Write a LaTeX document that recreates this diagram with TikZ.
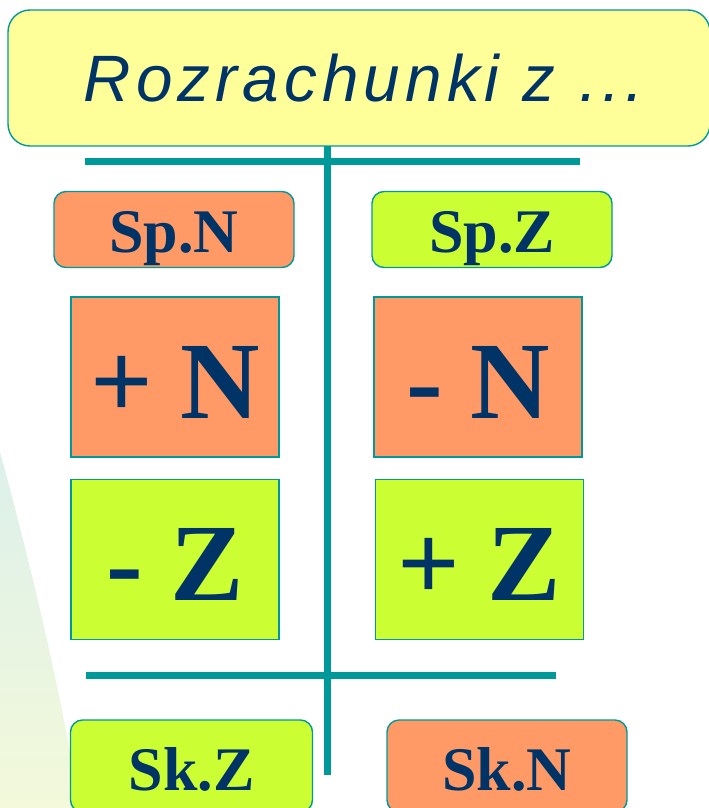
\documentclass[tikz,border=0pt]{standalone}
\usepackage{fontspec}
\setmainfont{Liberation Serif}
\newfontfamily\titlefont[LetterSpace=7.8]{Liberation Sans}
\definecolor{tealc}{HTML}{009999}
\definecolor{navyc}{HTML}{003366}
\definecolor{orangec}{HTML}{FF9966}
\definecolor{greenc}{HTML}{CCFF33}
\definecolor{yellowc}{HTML}{FFFF99}
\definecolor{bgtop}{HTML}{DDF0EB}
\definecolor{bgbot}{HTML}{F3F9DA}
\begin{document}
\begin{tikzpicture}[x=1pt,y=-1pt,
  boxbase/.style={draw=tealc, line width=1.4pt, inner sep=0pt, text=navyc, text depth=0pt},
  smallbox/.style={boxbase, rounded corners=12pt, minimum width=240pt, minimum height=76pt,
    font=\bfseries\fontsize{62}{62}\selectfont, text height=45pt},
  bigbox/.style={boxbase, minimum width=208pt, minimum height=160pt,
    font=\bfseries\fontsize{110}{110}\selectfont, text height=82pt},
  titlebox/.style={boxbase, fill=yellowc, rounded corners=22pt, minimum width=702pt, minimum height=136pt,
    font={\titlefont\itshape\fontsize{65.6}{70}\selectfont}, text height=47pt},
  tline/.style={draw=tealc, line width=7pt}]
\useasboundingbox (0,0) rectangle (709,808);
\begin{scope}
\clip (0,0) rectangle (709,808);
\shade[top color=bgtop, bottom color=bgbot] (0,452) .. controls (35,580) and (62,700) .. (80,808) -- (0,808) -- cycle;

\node[titlebox] (title) at (359,78) {\hspace*{10pt}Rozrachunki z ...};

\coordinate (vtop) at (327.5,146);
\coordinate (vbot) at (327.5,775);
\coordinate (h1l) at (85,161);
\coordinate (h1r) at (580,161);
\coordinate (h2l) at (86,675.5);
\coordinate (h2r) at (556,675.5);
\draw[tline] (vtop) -- (vbot);
\draw[tline] (h1l) -- (h1r);
\draw[tline] (h2l) -- (h2r);

\node[smallbox, fill=orangec] (spn) at (174,229.5) {Sp.N};
\node[smallbox, fill=greenc] (spz) at (492,229.5) {Sp.Z};
\node[bigbox, fill=orangec] (pn) at (175,377) {+ N};
\node[bigbox, fill=orangec] (mn) at (478,377) {- N};
\node[bigbox, fill=greenc] (mz) at (175,559.5) {- Z};
\node[bigbox, fill=greenc] (pz) at (479.5,559.5) {+ Z};
\node[smallbox, fill=greenc, minimum width=242pt, minimum height=92pt, text height=48pt] (skz) at (191.5,766) {Sk.Z};
\node[smallbox, fill=orangec, minimum height=92pt, text height=48pt] (skn) at (507,766) {Sk.N};
\end{scope}
\end{tikzpicture}
\end{document}
